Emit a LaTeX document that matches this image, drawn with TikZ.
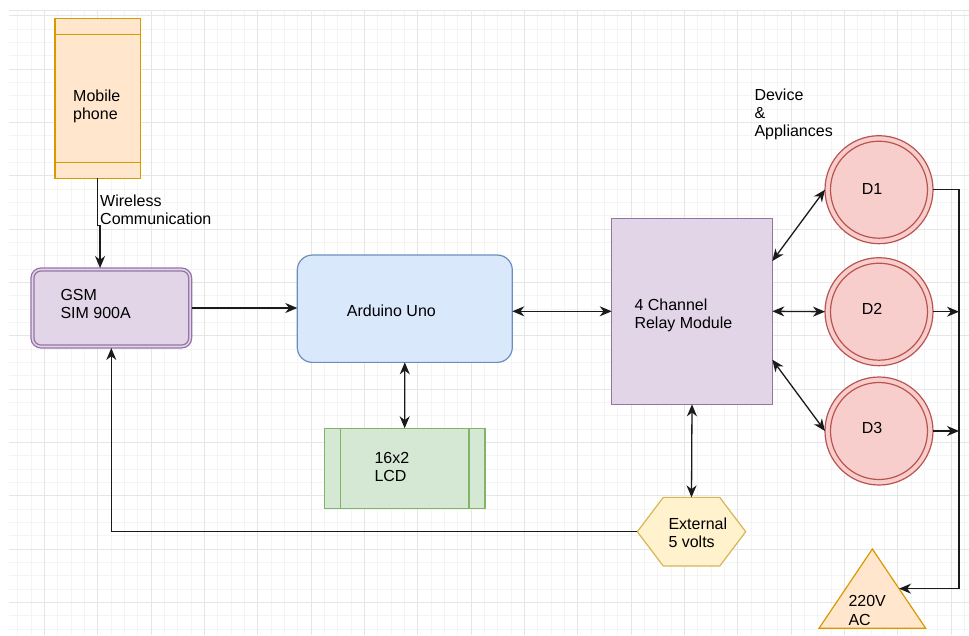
\documentclass[tikz,border=0pt]{standalone}
\usepackage{fontspec}
\setmainfont{Liberation Sans}
\usetikzlibrary{arrows.meta,calc}

\definecolor{gridmaj}{HTML}{E6E6E6}
\definecolor{gridmin}{HTML}{F4F4F4}
\definecolor{orfill}{HTML}{FFE6CC}
\definecolor{ordraw}{HTML}{D79B00}
\definecolor{pufill}{HTML}{E1D5E7}
\definecolor{pudraw}{HTML}{9673A6}
\definecolor{blfill}{HTML}{DAE8FC}
\definecolor{bldraw}{HTML}{6C8EBF}
\definecolor{grfill}{HTML}{D5E8D4}
\definecolor{grdraw}{HTML}{82B366}
\definecolor{rdfill}{HTML}{F8CECC}
\definecolor{rddraw}{HTML}{B85450}
\definecolor{yefill}{HTML}{FFF2CC}
\definecolor{yedraw}{HTML}{D6B656}
\definecolor{wirec}{HTML}{1A1A1A}

\begin{document}
\begin{tikzpicture}[
  x=1pt, y=-1pt,
  box/.style={inner sep=0pt, outer sep=0pt, line width=1.2pt},
  phonebox/.style={box, draw=ordraw, fill=orfill, minimum width=85.3pt, minimum height=160pt},
  gsmbox/.style={box, draw=pudraw, fill=pufill, rounded corners=10pt, minimum width=160.7pt, minimum height=80pt},
  ardbox/.style={box, draw=bldraw, fill=blfill, rounded corners=15pt, minimum width=215pt, minimum height=107.3pt},
  lcdbox/.style={box, draw=grdraw, fill=grfill, minimum width=160.7pt, minimum height=80pt},
  relaybox/.style={box, draw=pudraw, fill=pufill, minimum width=160.6pt, minimum height=186pt},
  devcircle/.style={box, circle, draw=rddraw, fill=rdfill, minimum size=108pt},
  tip/.tip={Stealth[length=12pt, width=10pt, inset=3.8pt]},
  wire/.style={draw=wirec, line width=1.3pt},
  % multi-line labels: the base anchor sits on the last line
  lbl/.style={anchor=base west, align=left, inner sep=0pt, text=black,
              font=\fontsize{16}{18.3}\selectfont},
]
\useasboundingbox (0,0) rectangle (969,635);
\fill[white] (0,0) rectangle (969,635);

% background grid
\foreach \i in {0,...,71}
  \draw[gridmin, line width=0.8pt] (17.67+13.333*\i,10) -- (17.67+13.333*\i,635);
\foreach \j in {0,...,46}
  \draw[gridmin, line width=0.8pt] (9,15.7+13.333*\j) -- (969,15.7+13.333*\j);
\foreach \i in {0,...,17}
  \draw[gridmaj, line width=0.9pt] (44.3+53.333*\i,10) -- (44.3+53.333*\i,635);
\foreach \j in {0,...,11}
  \draw[gridmaj, line width=0.9pt] (9,15.7+53.333*\j) -- (969,15.7+53.333*\j);
\draw[gridmaj, line width=0.9pt] (9,10.5) -- (969,10.5);

% mobile phone
\node[phonebox] (phone) at (97.65,98.3) {};
\draw[ordraw, line width=1.2pt] ([yshift=-16pt]phone.north west) -- ([yshift=-16pt]phone.north east);
\draw[ordraw, line width=1.2pt] ([yshift=16pt]phone.south west) -- ([yshift=16pt]phone.south east);

% GSM module (double border)
\node[gsmbox] (gsm) at (111.3,308) {};
\draw[pudraw, line width=1.2pt, rounded corners=7pt]
  ([shift={(3,3)}]gsm.north west) rectangle ([shift={(-3,-3)}]gsm.south east);

% Arduino
\node[ardbox] (ard) at (404.8,308.7) {};

% LCD
\node[lcdbox] (lcd) at (404.65,468.3) {};
\draw[grdraw, line width=1.2pt] ([xshift=16.4pt]lcd.north west) -- ([xshift=16.4pt]lcd.south west);
\draw[grdraw, line width=1.2pt] ([xshift=-16pt]lcd.north east) -- ([xshift=-16pt]lcd.south east);

% relay module
\node[relaybox] (relay) at (692,311.3) {};

% devices
\foreach \n/\y in {d1/189.7, d2/311.7, d3/431} {
  \node[devcircle] (\n) at (879,\y) {};
  \draw[rddraw, line width=1.2pt] (\n) circle[radius=48.5pt];
}

% external supply (hexagon)
\node[box, minimum width=108.4pt, minimum height=68.7pt] (ext) at (691.5,531.7) {};
\draw[yedraw, fill=yefill, line width=1.2pt]
  (ext.west) -- ([xshift=26pt]ext.north west) -- ([xshift=-26pt]ext.north east)
  -- (ext.east) -- ([xshift=-26pt]ext.south east) -- ([xshift=26pt]ext.south west) -- cycle;

% mains (triangle)
\node[box, minimum width=106.7pt, minimum height=79.3pt] (ac) at (872.35,588.65) {};
\draw[ordraw, fill=orfill, line width=1.2pt] (ac.south west) -- (ac.north) -- (ac.south east) -- cycle;
\coordinate (acin) at ($(ac.north)!0.5!(ac.south east)$);

% connectors
\coordinate (gsmin) at ($(gsm.north west)!0.43!(gsm.north east)$);
\draw[wire, -tip] (phone.south) -- ++(0,47) -| (gsmin);
\draw[wire, -tip] (gsm.east) -- (gsm.east -| ard.west);
\draw[wire, tip-tip] (relay.west -| ard.east) -- (relay.west);
\draw[wire, tip-tip] (ard.south) -- (lcd.north);
\draw[wire, tip-tip] ($(relay.north east)!0.23!(relay.south east)$) -- (d1.west);
\draw[wire, tip-tip] (relay.east) -- (d2.west);
\draw[wire, tip-tip] ($(relay.north east)!0.76!(relay.south east)$) -- (d3.west);
\draw[wire, tip-tip] (relay.south) -- (ext.north);
\draw[wire, -tip] (ext.west) -| (gsm.south);

\coordinate (bustop) at (959,189.7);
\coordinate (busbot) at (959,588.65);
\draw[wire, -tip] (d1.east) -- (bustop) -- (busbot) -- (acin);
\draw[wire, -tip] (d2.east) -- (d2.east -| bustop);
\draw[wire, -tip] (d3.east) -- (d3.east -| bustop);

% labels
\node[lbl] (tphone) at (73,119.3) {Mobile\\phone};
\node[lbl] (twless) at (100,224.8) {Wireless\\Communication};
\node[lbl] (tgsm) at (60.3,318.3) {GSM\\SIM 900A};
\node[lbl] (tard) at (346.7,316.7) {Arduino Uno};
\node[lbl] (tlcd) at (374.3,481.6) {16x2\\LCD};
\node[lbl] (trelay) at (634.3,328.3) {4 Channel\\Relay Module};
\node[lbl] (tdev) at (754.3,136.6) {Device\\\&\\Appliances};
\node[lbl] (td1) at (861.7,194) {D1};
\node[lbl] (td2) at (861.7,314) {D2};
\node[lbl] (td3) at (861.7,433.3) {D3};
\node[lbl] (text) at (668.3,547.3) {External\\5 volts};
\node[lbl] (tac) at (848.3,625) {220V\\AC};
\end{tikzpicture}
\end{document}
